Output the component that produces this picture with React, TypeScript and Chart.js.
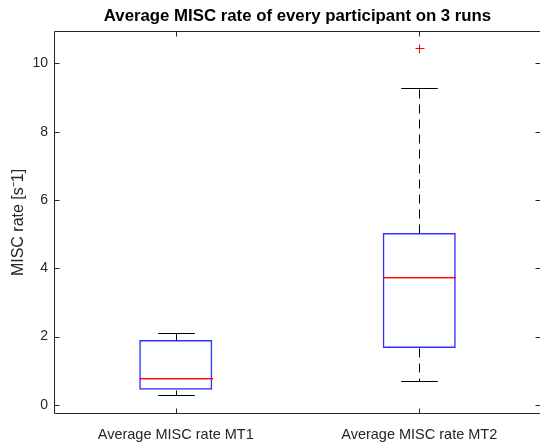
import React, { useEffect, useRef } from 'react';
import { Chart, registerables } from 'chart.js';
Chart.register(...registerables);

const titleText = 'Average MISC rate of every participant on 3 runs';
const yTitle = 'MISC rate [s\u207B1]';
const categories = ['Average MISC rate MT1', 'Average MISC rate MT2'];
const lowerWhisker = [0.29, 0.7];
const q1 = [0.44, 1.66];
const median = [0.79, 3.74];
const q3 = [1.9, 5.03];
const upperWhisker = [2.1, 9.27];
const outliers: number[][] = [[], [10.46]];
const yTicks = [0, 2, 4, 6, 8, 10];
const yMin = -0.27;
const yMax = 10.95;

const FONT = '"Liberation Sans", Arial, Helvetica, sans-serif';
const AXIS_COLOR = '#262626';

const boxPlugin = {
  id: 'boxExtras',
  afterDatasetsDraw(chart: any) {
    const ctx = chart.ctx;
    const xs = chart.scales.x;
    const ys = chart.scales.y;
    const meta = chart.getDatasetMeta(0);
    const py = (v: number) => Math.round(ys.getPixelForValue(v)) + 0.5;
    const seg = (x1: number, y1: number, x2: number, y2: number) => {
      ctx.beginPath();
      ctx.moveTo(x1, y1);
      ctx.lineTo(x2, y2);
      ctx.stroke();
    };
    ctx.save();
    ctx.lineWidth = 1;
    // whiskers and caps
    categories.forEach((_, i) => {
      const cx = Math.round(xs.getPixelForValue(i)) + 0.5;
      const half = meta.data[i].width / 2;
      ctx.strokeStyle = '#000000';
      ctx.setLineDash([9, 6]);
      seg(cx, py(q3[i]), cx, py(upperWhisker[i]));
      seg(cx, py(q1[i]), cx, py(lowerWhisker[i]));
      ctx.setLineDash([]);
      seg(cx - half / 2, py(upperWhisker[i]), cx + half / 2, py(upperWhisker[i]));
      seg(cx - half / 2, py(lowerWhisker[i]), cx + half / 2, py(lowerWhisker[i]));
    });
    // medians and outliers
    ctx.setLineDash([]);
    ctx.strokeStyle = '#ff0000';
    ctx.fillStyle = '#ff0000';
    ctx.lineWidth = 1;
    categories.forEach((_, i) => {
      const cx = Math.round(xs.getPixelForValue(i));
      const half = Math.round(meta.data[i].width / 2);
      const my = Math.round(ys.getPixelForValue(median[i]));
      ctx.fillRect(cx - half + 1, my, 2 * half - 1, 1.4);
      outliers[i].forEach((v) => {
        const oy = py(v);
        seg(cx + 0.5 - 4, oy, cx + 0.5 + 5, oy);
        seg(cx + 0.5, oy - 4, cx + 0.5, oy + 5);
      });
    });
    ctx.restore();
  },
  afterDraw(chart: any) {
    const ctx = chart.ctx;
    const { left, right, top, bottom } = chart.chartArea;
    const xs = chart.scales.x;
    const ys = chart.scales.y;
    const L = Math.round(left) + 0.5;
    const R = Math.round(right) - 0.5;
    const T = Math.round(top) + 0.5;
    const B = Math.round(bottom) - 0.5;
    ctx.save();
    ctx.strokeStyle = AXIS_COLOR;
    ctx.lineWidth = 1;
    ctx.beginPath();
    ctx.moveTo(L, T);
    ctx.lineTo(R, T);
    ctx.lineTo(R, B);
    ctx.lineTo(L, B);
    ctx.closePath();
    ctx.stroke();
    const tl = 5;
    ys.ticks.forEach((t: any) => {
      const y = Math.round(ys.getPixelForValue(t.value)) + 0.5;
      ctx.beginPath();
      ctx.moveTo(L, y);
      ctx.lineTo(L + tl, y);
      ctx.moveTo(R, y);
      ctx.lineTo(R - tl, y);
      ctx.stroke();
    });
    categories.forEach((_, i) => {
      const x = Math.round(xs.getPixelForValue(i)) + 0.5;
      ctx.beginPath();
      ctx.moveTo(x, B);
      ctx.lineTo(x, B - tl);
      ctx.moveTo(x, T);
      ctx.lineTo(x, T + tl);
      ctx.stroke();
    });
    ctx.restore();
  },
};

export default function App() {
  const ref = useRef<HTMLCanvasElement>(null);
  useEffect(() => {
    if (!ref.current) return;
    const chart = new Chart(ref.current, {
      type: 'bar',
      data: {
        labels: categories,
        datasets: [
          {
            data: categories.map((_, i) => [q1[i], q3[i]]) as any,
            backgroundColor: 'rgba(255,255,255,0)',
            borderColor: '#3030ff',
            borderWidth: 1.5,
            borderSkipped: false,
            barPercentage: 0.3,
            categoryPercentage: 1,
          },
        ],
      },
      options: {
        animation: false,
        responsive: false,
        devicePixelRatio: 1,
        layout: { padding: { left: 0, right: 5, top: 0, bottom: 0 } },
        plugins: {
          legend: { display: false },
          tooltip: { enabled: false },
          title: {
            display: true,
            text: titleText,
            fullSize: false,
            color: '#000000',
            font: { family: FONT, size: 16.8, weight: 'bold' },
            padding: { top: 6, bottom: 4.8 },
          },
        },
        scales: {
          x: {
            type: 'category',
            offset: true,
            grid: { display: false, drawTicks: false },
            border: { display: false },
            ticks: {
              color: AXIS_COLOR,
              font: { family: FONT, size: 14.5 },
              padding: 12,
              maxRotation: 0,
              autoSkip: false,
            },
            afterFit: (s: any) => {
              s.height = 31;
            },
          },
          y: {
            type: 'linear',
            min: yMin,
            max: yMax,
            grid: { display: false, drawTicks: false },
            border: { display: false },
            afterBuildTicks: (s: any) => {
              s.ticks = yTicks.map((v) => ({ value: v }));
            },
            ticks: {
              color: AXIS_COLOR,
              font: { family: FONT, size: 14 },
              padding: 6,
            },
            title: {
              display: true,
              text: yTitle,
              color: AXIS_COLOR,
              font: { family: FONT, size: 16 },
              padding: { top: 9, bottom: 0 },
            },
            afterFit: (s: any) => {
              s.width = 54;
            },
          },
        },
      },
      plugins: [boxPlugin],
    });
    return () => chart.destroy();
  }, []);
  return (
    <div
      style={{
        position: 'fixed',
        left: 0,
        top: 0,
        width: 540,
        height: 445,
        overflow: 'hidden',
        background: '#ffffff',
      }}
    >
      <canvas ref={ref} width={546} height={445} style={{ display: 'block' }} />
    </div>
  );
}
